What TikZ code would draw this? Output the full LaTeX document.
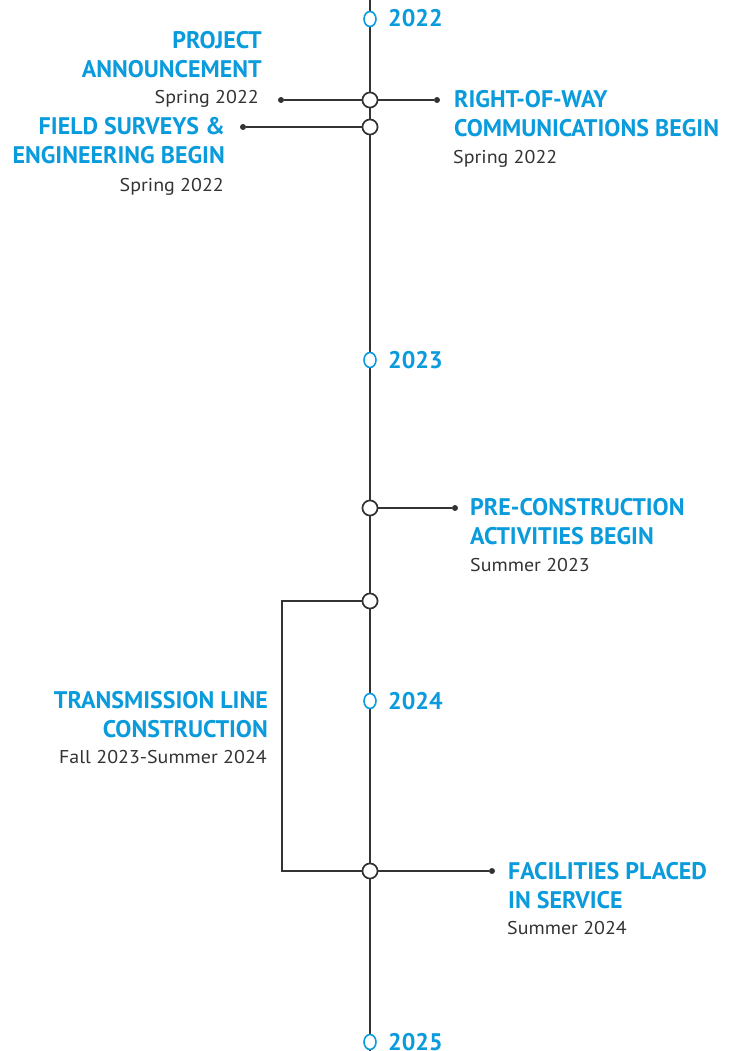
\documentclass[tikz,border=0pt]{standalone}
\usetikzlibrary{shapes.geometric}
\usepackage{fontspec}
\setmainfont{PT Sans}
\newfontfamily\ttlfont{PT Sans Bold}
\newfontfamily\dtfont[FakeStretch=1.08]{PT Sans}
\definecolor{tblue}{RGB}{10,155,220}
\definecolor{tgray}{RGB}{51,51,51}
\begin{document}
\begin{tikzpicture}[x=1pt,y=-1pt,
  ttl/.style={text=tblue,font=\ttlfont\fontsize{24}{29}\selectfont,inner sep=0pt},
  dte/.style={text=tgray,font=\dtfont\fontsize{18.5}{22}\selectfont,inner sep=0pt},
  yr/.style={text=tblue,font=\ttlfont\fontsize{24}{26}\selectfont,inner sep=0pt,anchor=base west},
  yc/.style={draw=tblue,fill=white,line width=1.6pt,ellipse,minimum width=12pt,minimum height=15pt,inner sep=0pt},
  ev/.style={draw=tgray,fill=white,line width=1.6pt,circle,minimum size=15pt,inner sep=0pt},
  dot/.style={fill=tgray,circle,minimum size=6pt,inner sep=0pt},
  ln/.style={draw=tgray,line width=1.6pt}]
\useasboundingbox (0,0) rectangle (738,1051);
\coordinate (top) at (370,0);
\coordinate (bot) at (370,1051);
\draw[ln] (top) -- (bot);
% events
\node[ev] (e1) at (370,100) {};
\node[ev] (e2) at (370,127) {};
\node[ev] (e3) at (370,508) {};
\node[ev] (e4) at (370,601) {};
\node[ev] (e5) at (370,871) {};
\node[dot] (d1l) at (281,100) {};
\node[dot] (d1r) at (437,100) {};
\node[dot] (d2l) at (243,127) {};
\node[dot] (d3r) at (455,508) {};
\node[dot] (d5r) at (492,871) {};
\coordinate (bt) at (282,601);
\coordinate (bb) at (282,871);
\draw[ln] (e1) -- (d1l); \draw[ln] (e1) -- (d1r);
\draw[ln] (e2) -- (d2l);
\draw[ln] (e3) -- (d3r);
\draw[ln] (e5) -- (d5r);
\draw[ln] (e4) -- (bt) -- (bb) -- (e5);
\node[ev] at (e1) {}; \node[ev] at (e2) {}; \node[ev] at (e3) {}; \node[ev] at (e4) {}; \node[ev] at (e5) {};
% years
\node[yc] (y1) at (370,19) {};
\node[yc] (y2) at (370,360) {};
\node[yc] (y3) at (370,701) {};
\node[yc] (y4) at (370,1042) {};
\node[yr] (t1) at (388,27) {2022};
\node[yr] (t2) at (388,368) {2023};
\node[yr] (t3) at (388,709) {2024};
\node[yr] (t4) at (388,1050) {2025};
% labels
\node[ttl,align=right,anchor=base east] (a1) at (262,78) {PROJECT\\ANNOUNCEMENT};
\node[dte,anchor=base east] (a1d) at (259,104) {Spring 2022};
\node[ttl,align=right,anchor=base east] (a2) at (225,164) {FIELD SURVEYS \&\\ENGINEERING BEGIN};
\node[dte,anchor=base east] (a2d) at (224,191) {Spring 2022};
\node[ttl,align=left,anchor=base west] (a3) at (454,137) {RIGHT-OF-WAY\\COMMUNICATIONS BEGIN};
\node[dte,anchor=base west] (a3d) at (453,164) {Spring 2022};
\node[ttl,align=left,anchor=base west] (a4) at (470,544) {PRE-CONSTRUCTION\\ACTIVITIES BEGIN};
\node[dte,anchor=base west] (a4d) at (470,571) {Summer 2023};
\node[ttl,align=right,anchor=base east] (a5) at (268,737) {TRANSMISSION LINE\\CONSTRUCTION};
\node[dte,anchor=base east] (a5d) at (267,763) {Fall 2023-Summer 2024};
\node[ttl,align=left,anchor=base west] (a6) at (508,908) {FACILITIES PLACED\\IN SERVICE};
\node[dte,anchor=base west] (a6d) at (507,934) {Summer 2024};
\end{tikzpicture}
\end{document}
